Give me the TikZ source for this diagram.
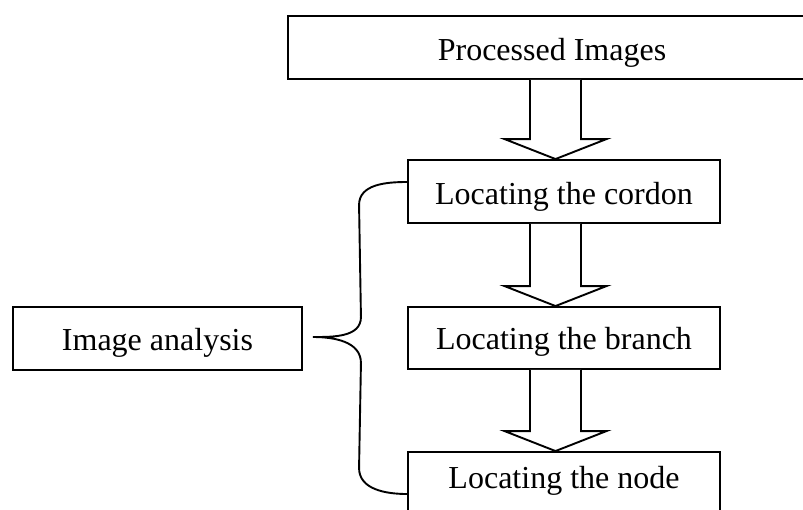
\documentclass[tikz,border=0pt]{standalone}
\usepackage{fontspec}
\setmainfont{Liberation Serif}
\usetikzlibrary{calc}

\tikzset{
  stage/.style={draw, line width=1.9pt, fill=white, inner sep=0pt,
    minimum height=63pt, text height=25pt, text depth=0pt,
    font=\fontsize{32}{38}\selectfont},
  hollowarrow/.style={draw, line width=1.9pt, fill=white, line join=miter},
  bracket/.style={draw, line width=1.9pt, line cap=round}
}

% hollow block arrow from the bottom of #1 to the top of #2, on the column (ax)
\newcommand{\hollowdown}[2]{%
  \draw[hollowarrow]
    ($(ax |- #1.south)+(-25.5,0)$) --
    ($(ax |- #2.north)+(-25.5,20)$) --
    ($(ax |- #2.north)+(-51,20)$) --
    (ax |- #2.north) --
    ($(ax |- #2.north)+(51,20)$) --
    ($(ax |- #2.north)+(25.5,20)$) --
    ($(ax |- #1.south)+(25.5,0)$);%
}

\begin{document}
\begin{tikzpicture}[x=1pt, y=1pt]
  \useasboundingbox (0,0) rectangle (803,-509);
  \fill[white] (0,0) rectangle (803,-509);
  \clip (0,0) rectangle (803,-509);

  % boxes
  \node[stage, minimum width=528pt] (proc)     at (552,-47.5)  {Processed Images};
  \node[stage, minimum width=312pt] (cordon)   at (564,-191.5) {Locating the cordon};
  \node[stage, minimum width=312pt, minimum height=62pt, text height=23pt]
                                    (branch)   at (564,-338)   {Locating the branch};
  \node[stage, minimum width=312pt, text height=9pt]
                                    (nodebox)  at (564,-483.5) {Locating the node};
  \node[stage, minimum width=289pt, text height=23pt]
                                    (analysis) at (157.5,-338.5) {Image analysis};

  % column of the block arrows
  \coordinate (ax) at (555.5,0);
  \hollowdown{proc}{cordon}
  \hollowdown{cordon}{branch}
  \hollowdown{branch}{nodebox}

  % curly bracket grouping the three locating steps
  \coordinate (btop) at ($(cordon.west)+(0,9.5)$);
  \coordinate (bbot) at ($(nodebox.west)+(0,-10.5)$);
  \coordinate (btip) at ($(analysis.east)+(10,1.5)$);
  \draw[bracket]
    (btop) to[out=180, in=90] ($(btop)+(-48,-23)$)
    -- ($(btip)+(48,20)$)
    to[out=-90, in=0] (btip)
    to[out=0, in=90] ($(btip)+(48,-26)$)
    -- ($(bbot)+(-48,26)$)
    to[out=-90, in=180] (bbot);
\end{tikzpicture}
\end{document}
